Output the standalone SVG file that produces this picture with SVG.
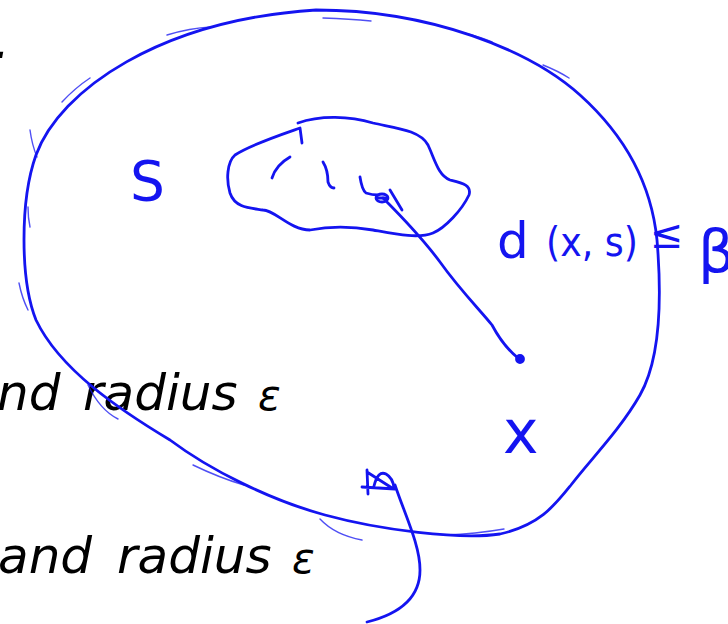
<svg xmlns="http://www.w3.org/2000/svg" width="728" height="624" viewBox="0 0 728 624">
<style>
.ink{fill:none;stroke:#1414f0;stroke-width:2.8;stroke-linecap:round;stroke-linejoin:round}
.thin{fill:none;stroke:#1414f0;stroke-width:1.4;stroke-linecap:round;opacity:0.75}
.hand{fill:#1414f0;font-family:"DejaVu Sans",sans-serif}
.print{fill:#000;font-family:"DejaVu Sans",sans-serif;font-style:italic;font-size:50px}
</style>
<rect width="728" height="624" fill="#fff"/>
<g id="slide-text">
<text class="print" x="-6" y="58">.</text>
<text class="print" y="410"><tspan x="-3">nd</tspan><tspan x="83">radius</tspan><tspan x="258" font-size="42">ε</tspan></text>
<text class="print" y="573"><tspan x="-2">and</tspan><tspan x="117">radius</tspan><tspan x="292" font-size="42">ε</tspan></text>
</g>
<g id="ball">
<path class="ink" d="M316,10 C430,10 530,50 580,95 C630,140 652,190 657,240 C662,300 660,360 640,395 C620,430 590,460 571,485 C555,505 540,525 500,534 C460,540 380,530 325,515 C270,500 210,470 170,440 C120,410 60,370 36,320 C20,280 20,200 36,155 C60,90 160,20 316,10 Z"/>
<path class="thin" d="M62,102 Q75,88 90,78 M167,35 Q190,28 211,27 M323,18 Q350,19 371,21 M464,33 Q480,37 492,42 M543,65 Q558,71 569,78 M30,130 Q32,145 37,157 M28,207 Q28,218 30,227 M19,283 Q22,298 28,310 M88,385 Q100,410 118,419 M193,465 Q220,478 244,485 M320,519 Q335,535 362,540 M446,535 Q475,534 504,529"/>
</g>
<g id="set-S">
<path class="ink" d="M298,123 C320,115 350,116 373,123 C395,128 420,130 428,145 C435,160 438,175 450,180 C462,183 472,185 469,195 C462,210 445,228 433,233 C418,239 395,234 373,230 C350,226 330,226 310,230 C290,230 275,210 263,210 C250,208 235,208 230,193 C226,180 227,162 235,155 C250,145 280,135 300,128 L302,143"/>
<path class="ink" d="M290,157 Q276,165 272,178 M323,162 Q328,170 328,182 Q330,188 334,188 M360,177 Q362,190 366,193 Q372,195 378,195 M390,190 Q396,200 402,210"/>
<ellipse class="ink" cx="382" cy="198" rx="6" ry="4"/>
<path class="ink" d="M377,198 L387,198"/>
<text class="hand" x="130" y="200" font-size="55">S</text>
</g>
<g id="connectors">
<path class="ink" d="M383,198 C400,215 420,235 440,262 C460,290 480,310 492,325 C500,340 508,350 518,358"/>
<circle class="ink" cx="520" cy="359" r="3.5" style="fill:#1414f0"/>
<path class="ink" d="M395,485 C405,515 420,545 420,570 C420,600 395,615 367,622"/>
<path class="ink" d="M367,470 L368,494 M367,472 L392,488 M362,487 L395,489 M374,486 Q378,470 386,474 Q393,478 394,488"/>
</g>
<g id="labels">
<text class="hand" x="497" y="258" font-size="50">d</text>
<text class="hand" x="546" y="256" font-size="40" textLength="92" lengthAdjust="spacingAndGlyphs">(x, s)</text>
<text class="hand" x="650" y="248" font-size="40">≤</text>
<text class="hand" x="698" y="272" font-size="58">β</text>
<text class="hand" x="503" y="453" font-size="60">x</text>
</g>
</svg>
